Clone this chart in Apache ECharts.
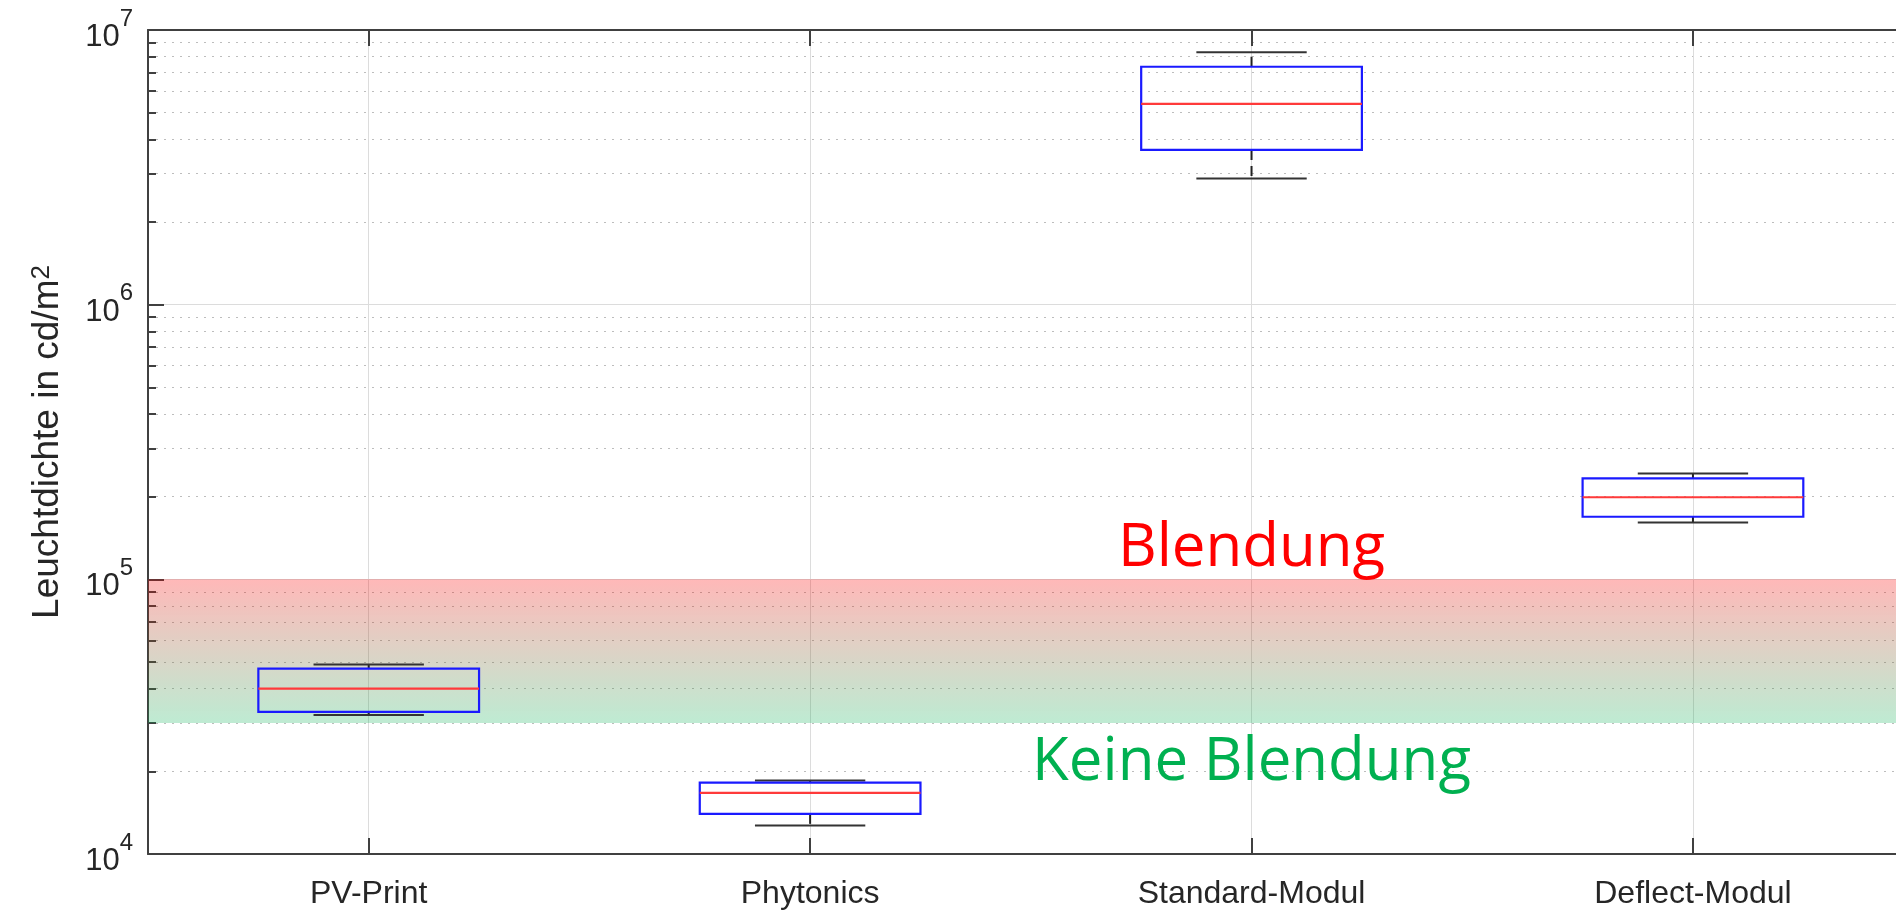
<!DOCTYPE html>
<html>
<head>
<meta charset="utf-8">
<script src="https://cdn.jsdelivr.net/npm/echarts@6/dist/echarts.min.js"></script>
<style>
  html, body { margin: 0; padding: 0; background: #fff; }
  #chart { width: 1896px; height: 910px; }
</style>
</head>
<body>
<div id="chart"></div>
<script>
// ===== Data =====
const categories  = ['PV-Print', 'Phytonics', 'Standard-Modul', 'Deflect-Modul'];
const whiskerLow  = [32100, 12700, 2880000, 161000];
const q1          = [32900, 14000, 3660000, 169000];
const median      = [40000, 16700, 5380000, 199000];
const q3          = [47300, 18200, 7350000, 233000];
const whiskerHigh = [49000, 18500, 8290000, 243000];

// glare band (cd/m²)
const bandLow  = 30000;
const bandHigh = 100000;

// annotations, anchored in data coords (category no., value)
const noteTexts = ['Blendung', 'Keine Blendung'];
const noteX     = [3, 3];
const noteY     = [129000, 21500];

// axis ticks
const decades    = [1e4, 1e5, 1e6, 1e7];
const minorTicks = decades.slice(0, 3).flatMap(d => [2, 3, 4, 5, 6, 7, 8, 9].map(m => m * d));
const catTicks   = categories.map((_, i) => i + 1);

// the figure is cut off on the right: x range runs 0.5 .. ~4.46
const X_MIN = 0.5;
const X_MAX = 4.46;

// ===== Styles =====
const AXIS = '#404040';
const TEXT = '#262626';
const FONT = '"Liberation Sans", Arial, sans-serif';
const NOTE_COLORS = ['#ff0000', '#00b050'];

const chart = echarts.init(document.getElementById('chart'));

function boxItem(params, api) {
  const x = api.value(0);
  const pt = (dx, v) => api.coord([x + dx, v]);
  const lo = api.value(1), a = api.value(2), m = api.value(3), b = api.value(4), hi = api.value(5);
  const blk = { stroke: '#333', lineWidth: 2 };
  const line = (p1, p2, style) => ({
    type: 'line',
    shape: { x1: p1[0], y1: p1[1], x2: p2[0], y2: p2[1] },
    style: style
  });
  const tl = pt(-0.25, b), br = pt(0.25, a);
  return {
    type: 'group',
    children: [
      line(pt(0, b), pt(0, hi), { stroke: '#222', lineWidth: 2, lineDash: [10, 6] }),
      line(pt(0, a), pt(0, lo), { stroke: '#222', lineWidth: 2, lineDash: [10, 6] }),
      line(pt(-0.125, hi), pt(0.125, hi), blk),
      line(pt(-0.125, lo), pt(0.125, lo), blk),
      { type: 'rect', shape: { x: tl[0], y: tl[1], width: br[0] - tl[0], height: br[1] - tl[1] },
        style: { fill: 'none', stroke: '#1a1aff', lineWidth: 2.2 } },
      line(pt(-0.25, m), pt(0.25, m), { stroke: '#ff3a3a', lineWidth: 2.2 })
    ]
  };
}

function noteItem(params, api) {
  const p = api.coord([api.value(0), api.value(1)]);
  const i = params.dataIndex;
  return {
    type: 'text',
    x: p[0], y: p[1],
    style: {
      text: noteTexts[i],
      fill: NOTE_COLORS[i],
      font: '60px "Open Sans", "DejaVu Sans", sans-serif',
      align: 'center', verticalAlign: 'middle'
    }
  };
}

const expLabel = v => '{b|10}{s|' + Math.round(Math.log10(v)) + '}';

chart.setOption({
  animation: false,
  grid: { left: 148, right: 0, top: 30, bottom: 56 },
  xAxis: [{
    type: 'value', min: X_MIN, max: X_MAX, position: 'bottom',
    axisLine: { show: true, onZero: false, lineStyle: { color: AXIS, width: 2 } },
    axisTick: { show: true, inside: true, length: 16, customValues: catTicks, lineStyle: { color: AXIS, width: 2 } },
    axisLabel: {
      customValues: catTicks, margin: 24,
      formatter: v => categories[Math.round(v) - 1] || '',
      color: TEXT, fontFamily: FONT, fontSize: 32
    },
    splitLine: { show: true, lineStyle: { color: '#dcdcdc', width: 1 } }
  }, {
    type: 'value', min: X_MIN, max: X_MAX, position: 'top',
    axisLine: { show: true, onZero: false, lineStyle: { color: AXIS, width: 2 } },
    axisTick: { show: true, inside: true, length: 16, customValues: catTicks, lineStyle: { color: AXIS, width: 2 } },
    axisLabel: { show: false },
    splitLine: { show: false }
  }],
  yAxis: [{
    type: 'log', logBase: 10, min: 1e4, max: 1e7, position: 'left',
    name: 'Leuchtdichte in cd/m{s|2}',
    nameLocation: 'middle', nameGap: 82,
    nameTextStyle: {
      color: TEXT, fontFamily: FONT, fontSize: 37,
      rich: { s: { fontFamily: FONT, fontSize: 26, color: TEXT, verticalAlign: 'top', lineHeight: 26 } }
    },
    axisLine: { show: true, onZero: false, lineStyle: { color: AXIS, width: 2 } },
    axisTick: { show: true, inside: true, length: 16, customValues: decades, lineStyle: { color: AXIS, width: 2 } },
    axisLabel: {
      customValues: decades, margin: 15,
      formatter: expLabel,
      rich: {
        b: { fontFamily: FONT, fontSize: 31, color: TEXT, lineHeight: 46, verticalAlign: 'bottom' },
        s: { fontFamily: FONT, fontSize: 24, color: TEXT, lineHeight: 24, verticalAlign: 'top' }
      }
    },
    splitLine: { show: true, lineStyle: { color: '#dcdcdc', width: 1 } }
  }, {
    type: 'log', logBase: 10, min: 1e4, max: 1e7, position: 'left',
    axisLine: { show: false },
    axisTick: { show: true, inside: true, length: 8, customValues: minorTicks, lineStyle: { color: AXIS, width: 2 } },
    axisLabel: { show: false },
    splitLine: { show: true, lineStyle: { color: '#bdbdbd', width: 1.2, type: [2, 6] } }
  }],
  series: [{
    type: 'custom',
    name: 'band',
    renderItem: noteItem,
    coordinateSystem: 'cartesian2d',
    data: noteX.map((x, i) => [x, noteY[i]]),
    encode: { x: 0, y: 1 },
    z: 5,
    markArea: {
      silent: true,
      itemStyle: {
        color: {
          type: 'linear', x: 0, y: 0, x2: 0, y2: 1,
          colorStops: [
            { offset: 0, color: 'rgba(255,0,0,0.28)' },
            { offset: 1, color: 'rgba(0,176,80,0.255)' }
          ]
        }
      },
      data: [[{ yAxis: bandHigh }, { yAxis: bandLow }]]
    }
  }, {
    type: 'custom',
    name: 'box',
    renderItem: boxItem,
    coordinateSystem: 'cartesian2d',
    data: categories.map((c, i) => [i + 1, whiskerLow[i], q1[i], median[i], q3[i], whiskerHigh[i]]),
    encode: { x: 0, y: [1, 2, 3, 4, 5] },
    z: 10
  }]
});
</script>
</body>
</html>
